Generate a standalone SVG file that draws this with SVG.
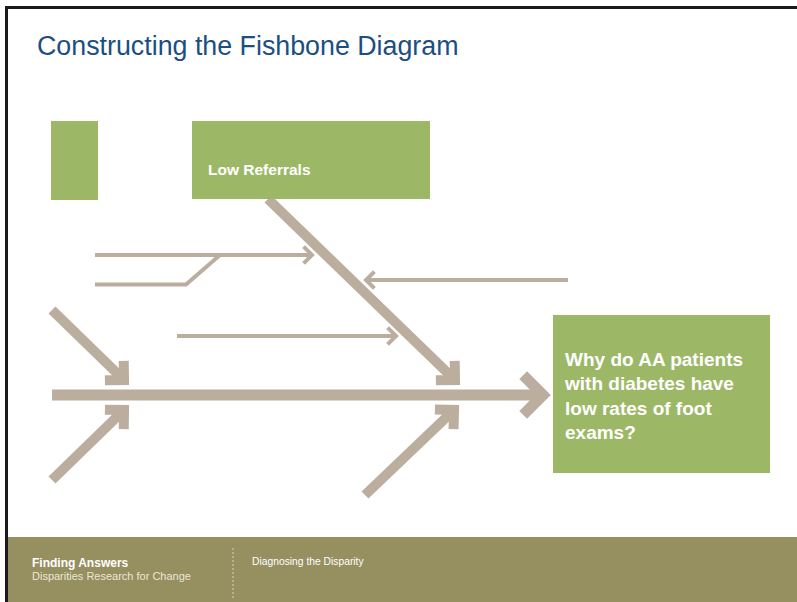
<svg xmlns="http://www.w3.org/2000/svg" width="797" height="602" viewBox="0 0 797 602">
<defs>
<style>
.bone{fill:none;stroke:#bcae9f;stroke-linecap:butt}
.thick{stroke-width:10}
.spine{stroke-width:11}
.thin{stroke-width:4}
.box{fill:#9cb866}
.wt{fill:#ffffff;font-family:"Liberation Sans",Arial,sans-serif;font-weight:bold}
</style>
<marker id="chev" markerUnits="strokeWidth" markerWidth="6" markerHeight="6" viewBox="-3 -3 6 6" refX="0" refY="0" orient="auto" overflow="visible">
<path d="M -2.1 -2.1 L 0 0 L -2.1 2.1" fill="none" stroke="#bcae9f" stroke-width="1" stroke-linejoin="miter"/>
</marker>
<marker id="chevS" markerUnits="strokeWidth" markerWidth="6" markerHeight="6" viewBox="-3 -3 6 6" refX="0" refY="0" orient="auto" overflow="visible">
<path d="M -1.35 -1.35 L 0 0 L -1.35 1.35" fill="none" stroke="#bcae9f" stroke-width="1" stroke-linejoin="miter"/>
</marker>
<marker id="chevM" markerUnits="strokeWidth" markerWidth="6" markerHeight="6" viewBox="-3 -3 6 6" refX="0" refY="0" orient="auto" overflow="visible">
<path d="M -1.8 -1.8 L 0 0 L -1.8 1.8" fill="none" stroke="#bcae9f" stroke-width="1" stroke-linejoin="miter"/>
</marker>
</defs>
<rect x="0" y="0" width="797" height="602" fill="#ffffff"/>
<rect x="6" y="537" width="791" height="65" fill="#968f5f"/>
<line x1="6.5" y1="6" x2="6.5" y2="602" stroke="#1a1a1a" stroke-width="3"/>
<line x1="5" y1="7.5" x2="797" y2="7.5" stroke="#1a1a1a" stroke-width="3"/>
<text x="37" y="55" font-family="Liberation Sans,Arial,sans-serif" font-size="26.8" fill="#1c4f80">Constructing the Fishbone Diagram</text>

<g id="connectors">
<line class="bone spine" x1="52" y1="395" x2="543" y2="395" marker-end="url(#chevM)"/>
<line class="bone thick" x1="52" y1="310" x2="124" y2="380" marker-end="url(#chevS)"/>
<line class="bone thick" x1="52" y1="480" x2="124" y2="410" marker-end="url(#chevS)"/>
<line class="bone thick" x1="268" y1="199" x2="455" y2="380" marker-end="url(#chevS)"/>
<line class="bone thick" x1="365" y1="495" x2="454" y2="410" marker-end="url(#chevS)"/>
<line class="bone thin" x1="95" y1="255" x2="312" y2="255" marker-end="url(#chev)"/>
<polyline class="bone thin" points="95,284.5 186,284.5 220,255"/>
<line class="bone thin" x1="568" y1="280" x2="366" y2="280" marker-end="url(#chev)"/>
<line class="bone thin" x1="177" y1="336" x2="396" y2="336" marker-end="url(#chev)"/>
</g>

<g id="node-blank">
<rect class="box" x="51" y="121" width="47" height="79"/>
</g>
<g id="node-low-referrals">
<rect class="box" x="192" y="121" width="238" height="78"/>
<text class="wt" x="208" y="175" font-size="15.5">Low Referrals</text>
</g>
<g id="node-effect">
<rect class="box" x="553" y="315" width="217" height="158"/>
<text class="wt" font-size="19"><tspan x="565" y="366">Why do AA patients</tspan><tspan x="565" y="390">with diabetes have</tspan><tspan x="565" y="415">low rates of foot</tspan><tspan x="565" y="439">exams?</tspan></text>
</g>

<g id="footer">
<text x="32" y="567" font-family="Liberation Sans,Arial,sans-serif" font-size="12" font-weight="bold" fill="#ffffff">Finding Answers</text>
<text x="32" y="580" font-family="Liberation Sans,Arial,sans-serif" font-size="11" fill="#ebe7d6">Disparities Research for Change</text>
<line x1="233" y1="548" x2="233" y2="598" stroke="#d8d3b8" stroke-width="1" stroke-dasharray="2,2"/>
<text x="252" y="565" font-family="Liberation Sans,Arial,sans-serif" font-size="10.3" fill="#ffffff">Diagnosing the Disparity</text>
</g>
</svg>
